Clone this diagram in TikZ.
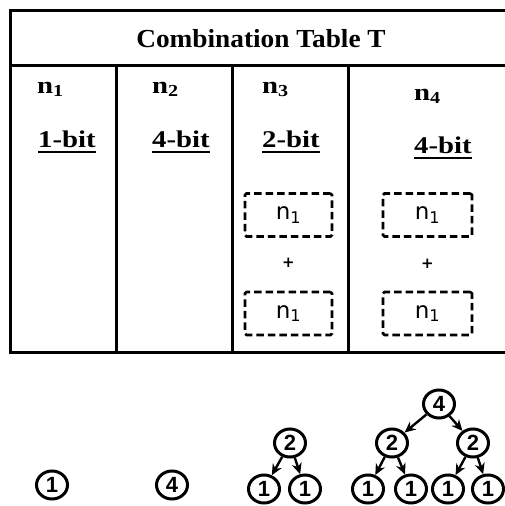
\documentclass[tikz,border=0pt]{standalone}
\usepackage{fontspec}
\setmainfont{Liberation Serif}
\newfontfamily\hdrfont[FakeStretch=1.05]{Liberation Serif}
\newfontfamily\colfont[FakeStretch=1.2]{Liberation Serif}
\newfontfamily\boxfont{DejaVu Sans}
\newfontfamily\numfont{Liberation Sans}
\usetikzlibrary{arrows.meta,shapes.geometric}
\begin{document}
\begin{tikzpicture}[x=1pt,y=-1pt,
  tbl/.style={line width=3pt, line join=miter},
  hdr/.style={font=\hdrfont\bfseries\fontsize{26}{30}\selectfont, inner sep=0, anchor=base},
  coltxt/.style={font=\colfont\bfseries\fontsize{24}{28}\selectfont, inner sep=0, anchor=base west},
  ulbar/.style={line width=1.6pt},
  dbox/.style={draw, dash pattern=on 7.5pt off 4pt, line width=2.8pt, rounded corners=1.5pt, minimum width=87pt, minimum height=43pt, inner sep=0, font=\boxfont\fontsize{23}{26}\selectfont},
  plussign/.style={font=\boxfont\bfseries\fontsize{15}{17}\selectfont, inner sep=0},
  tnode/.style={draw, ellipse, line width=3pt, minimum width=31pt, minimum height=28pt, inner sep=0, font=\numfont\bfseries\fontsize{22}{24}\selectfont},
  arr/.style={-{Stealth[length=11pt,width=10pt]}, line width=2.4pt}
]
\useasboundingbox (0,0) rectangle (504,506);
% table frame
\draw[tbl] (506,10) -- (10,10) -- (10,352) -- (506,352);
\draw[tbl] (10,65) -- (506,65);
\draw[tbl] (116,65) -- (116,352);
\draw[tbl] (232,65) -- (232,352);
\draw[tbl] (348,65) -- (348,352);
% header
\node[hdr] (title) at (261,47) {Combination Table T};
% column heads
\node[coltxt] (h1) at (37,93) {n\textsubscript{1}};
\node[coltxt] (h2) at (152,93) {n\textsubscript{2}};
\node[coltxt] (h3) at (262,93) {n\textsubscript{3}};
\node[coltxt] (h4) at (414,100) {n\textsubscript{4}};
\node[coltxt] (b1) at (38,147) {1-bit};
\node[coltxt] (b2) at (152,147) {4-bit};
\node[coltxt] (b3) at (262,147) {2-bit};
\node[coltxt] (b4) at (414,153) {4-bit};
\foreach \b in {b1,b2,b3,b4}{
  \draw[ulbar] ([yshift=-5pt]\b.base west) -- ([yshift=-5pt]\b.base east);
}
% dashed boxes
\node[dbox] (c3a) at (288.5,215) {n\textsubscript{1}};
\node[plussign] (c3p) at (288.5,263) {+};
\node[dbox] (c3b) at (288.5,313.5) {n\textsubscript{1}};
\node[dbox, minimum width=89pt] (c4a) at (427.5,215) {n\textsubscript{1}};
\node[plussign] (c4p) at (427.5,264) {+};
\node[dbox, minimum width=89pt] (c4b) at (427.5,313.5) {n\textsubscript{1}};
% trees
\node[tnode] (s1) at (52,485) {1};
\node[tnode] (s4) at (172,485) {4};
\node[tnode] (t2) at (290,443) {2};
\node[tnode] (t2a) at (264,489) {1};
\node[tnode] (t2b) at (305,489) {1};
\draw[arr] (t2) -- (t2a);
\draw[arr] (t2) -- (t2b);
\node[tnode] (q4) at (439,404) {4};
\node[tnode] (q2a) at (392,443) {2};
\node[tnode] (q2b) at (473,443) {2};
\node[tnode] (q1a) at (368,489) {1};
\node[tnode] (q1b) at (411,489) {1};
\node[tnode] (q1c) at (448,489) {1};
\node[tnode] (q1d) at (488,489) {1};
\draw[arr] (q4) -- (q2a);
\draw[arr] (q4) -- (q2b);
\draw[arr] (q2a) -- (q1a);
\draw[arr] (q2a) -- (q1b);
\draw[arr] (q2b) -- (q1c);
\draw[arr] (q2b) -- (q1d);
\end{tikzpicture}
\end{document}
